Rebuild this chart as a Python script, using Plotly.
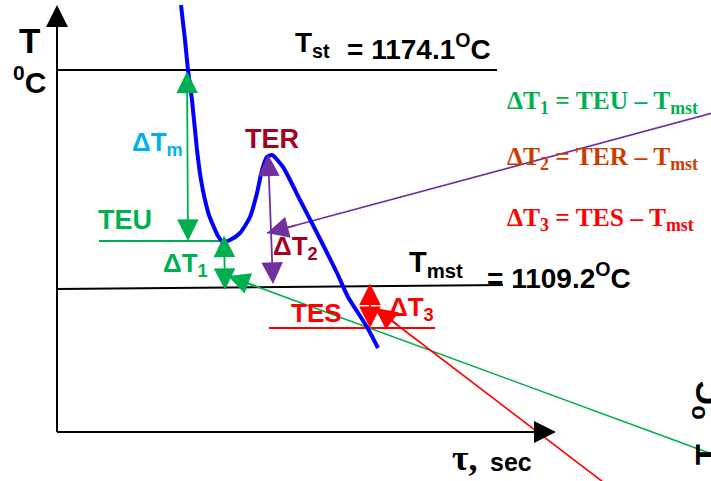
import plotly.graph_objects as go

# ---- diagram data (diagram units: x = time position, y = temperature position, y grows downward) ----
# cooling curve (blue)
curve_x = [181, 185, 188, 192, 197, 201, 205, 209, 213, 218, 223, 230, 240, 250, 257, 262, 267, 272, 283, 300, 317, 337, 348, 367, 378]
curve_y = [5, 40, 70, 100, 150, 180, 200, 215, 225, 236, 242, 240, 233, 217, 193, 170, 157, 155, 167, 200, 233, 273, 297, 327, 348]

# reference levels
T_st_label = "1174.1"
T_mst_label = "1109.2"
tst_line_x = [57, 497]
tst_line_y = [70, 70]
tmst_line_x = [57, 503]
tmst_line_y = [289, 285]
teu_line_x = [99, 222]
teu_line_y = [241, 241]
tes_line_x = [269, 435]
tes_line_y = [328, 328]

# leader lines from formulas
green_lead_x = [228, 720]
green_lead_y = [276, 457]
purple_lead_x = [267, 720]
purple_lead_y = [233, 111]
red_lead_x = [375, 620]
red_lead_y = [308, 495]

# axes
yaxis_line = [57, 432, 57, 5]     # x0, y0 -> x1, y1 (arrow at end)
xaxis_line = [57, 432, 556, 432]

# double-headed difference arrows: x0, y0, x1, y1
dTm_arrow = [187, 70, 188, 241]
dT1_arrow = [224, 234, 225, 290]
dT2_arrow = [268, 153, 273, 284]
dT3_arrow = [370, 282, 370, 328]

GREEN = "#00B050"
PURPLE = "#7030A0"
RED = "#FF0000"
BLUE = "#0000FF"
CYAN = "#00B0F0"
DARKRED = "#A50021"
ORANGE = "#CC3C00"

fig = go.Figure()


def line(xs, ys, color, width=2):
    fig.add_trace(go.Scatter(x=xs, y=ys, mode="lines", line=dict(color=color, width=width),
                             hoverinfo="skip", showlegend=False))


line(tst_line_x, tst_line_y, "black", 2)
line(tmst_line_x, tmst_line_y, "black", 2)
line(teu_line_x, teu_line_y, GREEN, 2)
line(tes_line_x, tes_line_y, RED, 2)
line(green_lead_x, green_lead_y, GREEN, 1.6)
line(purple_lead_x, purple_lead_y, PURPLE, 1.6)
line(red_lead_x, red_lead_y, RED, 1.6)
fig.add_trace(go.Scatter(x=curve_x, y=curve_y, mode="lines", line=dict(color=BLUE, width=4, shape="spline", smoothing=0.6),
                         hoverinfo="skip", showlegend=False))
line([yaxis_line[0], yaxis_line[2]], [yaxis_line[1], 18], "black", 2)
line([xaxis_line[0], xaxis_line[2] - 14], [xaxis_line[1], xaxis_line[3]], "black", 2)

anns = []


def arrow(x0, y0, x1, y1, color, both=False, width=1.8, size=2.4):
    a = dict(x=x1, y=y1, ax=x0, ay=y0, xref="x", yref="y", axref="x", ayref="y",
             text="", showarrow=True, arrowhead=2, arrowsize=size, arrowwidth=width,
             arrowcolor=color)
    if both:
        a.update(arrowside="end+start", startarrowhead=2, startarrowsize=size)
    anns.append(a)


# axis arrow heads
arrow(*yaxis_line, "black", width=2, size=2.2)
arrow(*xaxis_line, "black", width=2, size=2.2)
# difference arrows
arrow(*dTm_arrow, GREEN, both=True)
arrow(*dT1_arrow, GREEN, both=True)
arrow(*dT2_arrow, PURPLE, both=True)
arrow(*dT3_arrow, RED, both=True)
# leader heads
arrow(green_lead_x[0] + 30, green_lead_y[0] + 11, green_lead_x[0], green_lead_y[0], GREEN)
arrow(purple_lead_x[0] + 30, purple_lead_y[0] - 8, purple_lead_x[0], purple_lead_y[0], PURPLE)
arrow(red_lead_x[0] + 24, red_lead_y[0] + 18, red_lead_x[0], red_lead_y[0], RED)


def text(x, y, s, size, color="black", family="Liberation Sans", xanchor="left", yanchor="middle", angle=0):
    anns.append(dict(x=x, y=y, xref="x", yref="y", text=s, showarrow=False,
                     font=dict(family=family, size=size, color=color),
                     xanchor=xanchor, yanchor=yanchor, textangle=angle))


SANS = "Liberation Sans"
SERIF = "Liberation Serif"
text(29, 40, "<b>T</b>", 35, xanchor="center")
text(29, 80, "<b><sup>0</sup>C</b>", 30, xanchor="center")
text(293, 44, "<b>T<sub>st</sub></b>", 28)
text(345, 47, "<b>= " + T_st_label + "<sup>O</sup>C</b>", 28)
text(407, 264, "<b>T<sub>mst</sub></b>", 29)
text(485, 276, "<b>= " + T_mst_label + "<sup>O</sup>C</b>", 28)

text(96, 220, "<b>TEU</b>", 27, GREEN)
text(130, 143, "<b>ΔT<sub>m</sub></b>", 26, CYAN)
text(243, 139, "<b>TER</b>", 27, DARKRED)
text(161, 264, "<b>ΔT<sub>1</sub></b>", 26, GREEN)
text(271, 247, "<b>ΔT<sub>2</sub></b>", 26, DARKRED)
text(289, 313, "<b>TES</b>", 26, RED)
text(387, 308, "<b>ΔT<sub>3</sub></b>", 26, RED)

text(505, 102, "<b>ΔT<sub>1</sub> = TEU – T<sub>mst</sub></b>", 25.5, GREEN, family=SERIF)
text(505, 158, "<b>ΔT<sub>2</sub> = TER – T<sub>mst</sub></b>", 25.5, ORANGE, family=SERIF)
text(505, 219, "<b>ΔT<sub>3</sub> = TES – T<sub>mst</sub></b>", 25.5, RED, family=SERIF)

text(450, 458, "<b>τ,</b>", 36, family=SERIF)
text(488, 462, "<b>sec</b>", 25)
text(704, 423, "<b>T,  <sup>o</sup>C</b>", 34, angle=-90, xanchor="center")

fig.update_layout(
    width=711, height=481, margin=dict(l=0, r=0, t=0, b=0),
    paper_bgcolor="white", plot_bgcolor="white",
    xaxis=dict(range=[0, 711], visible=False, fixedrange=True),
    yaxis=dict(range=[481, 0], visible=False, fixedrange=True),
    annotations=anns, font=dict(family=SANS),
)
fig.write_html("out.html", config={"displayModeBar": False},
               post_script="document.body.style.margin='0px';document.body.style.overflow='hidden';")
